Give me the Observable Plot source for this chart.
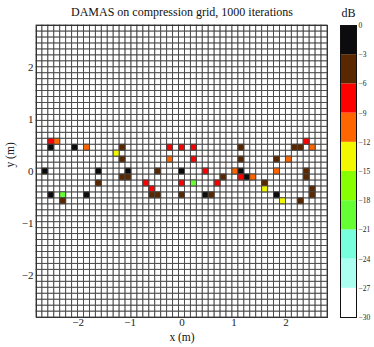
<!DOCTYPE html>
<html><head><meta charset="utf-8">
<script src="https://cdn.jsdelivr.net/npm/d3@7"></script>
<script src="https://cdn.jsdelivr.net/npm/@observablehq/plot@0.6"></script>
<style>
html,body{margin:0;padding:0;background:#fff;}
#wrap{position:relative;width:374px;height:347px;overflow:hidden;}
#main{position:absolute;left:0;top:0;}
#bar{position:absolute;left:330px;top:0;}
</style>
</head><body>
<div id="wrap"><div id="main"></div><div id="bar"></div></div>
<script>
// ---- data ----
const gridCount = 49;          // cells per side
const gridExtent = 2.8;        // grid spans -2.8 .. 2.8 m
const xTicks = [-2, -1, 0, 1, 2];
const yTicks = [-2, -1, 0, 1, 2];
// source cells: position (m) and level (dB)
const srcX = [-2.514,-2.400, 2.400,-2.514,-2.057,-1.829,-1.143,-0.229, 0.000, 0.229, 1.143, 2.171, 2.286, 2.514,
              -1.257,-1.143,-0.229, 0.229, 1.143, 1.829, 2.057,
              -2.629,-1.600,-1.029,-0.457, 0.000, 0.457, 1.029, 1.143, 1.829, 2.400,
              -1.143,-1.029, 0.800, 1.143, 1.257, 1.371, 2.400,
              -1.600,-0.686, 0.000, 0.229, 0.686, 1.600,
              -0.571, 1.600, 2.514,
              -2.514,-2.286,-1.829,-0.571,-0.457, 0.000, 0.457, 0.571, 1.829, 2.514,
              -2.286, 1.943, 2.286];
const srcY = [ 0.571, 0.571, 0.571, 0.457, 0.457, 0.457, 0.457, 0.457, 0.457, 0.457, 0.457, 0.457, 0.457, 0.457,
               0.343, 0.229, 0.229, 0.229, 0.229, 0.229, 0.229,
               0.000, 0.000, 0.000, 0.000, 0.000, 0.000, 0.000, 0.000, 0.000, 0.000,
              -0.114,-0.114,-0.114,-0.114,-0.114,-0.114,-0.114,
              -0.229,-0.229,-0.229,-0.229,-0.229,-0.229,
              -0.343,-0.343,-0.343,
              -0.457,-0.457,-0.457,-0.457,-0.457,-0.457,-0.457,-0.457,-0.457,-0.457,
              -0.571,-0.571,-0.571];
const srcDb = [ -7.2,-10.4, -7.8, -1.2, -1.6,-10.1, -4.3, -7.1, -6.8, -7.5, -4.6, -4.2, -4.4,-10.6,
               -13.2, -4.8,-10.2, -7.4, -4.5, -4.9,-10.8,
                -1.1, -0.9, -1.4, -4.7, -0.5, -7.3,-10.3, -1.3,-10.5, -4.2,
                -4.1, -4.6, -4.4, -7.6, -1.0,-10.7, -4.3,
                -4.5, -7.7, -7.0,-19.2, -7.9, -4.8,
                -7.3,-13.6, -4.4,
                -1.5,-19.5, -1.7, -4.6, -4.3, -4.9, -0.8, -4.2, -1.8, -4.5,
                -4.7,-13.9, -4.1];
const dbBreaks = [-30, -27, -24, -21, -18, -15, -12, -9, -6, -3, 0];
const dbColors = ["#ffffff","#aafff0","#77ffdd","#66ff33","#88ff00","#f2f800","#ff6600","#ff0000","#5a2800","#0c0c0e"];

// ---- derived tables ----
const step = 2 * gridExtent / gridCount;
const cells = d3.cross(d3.range(gridCount), d3.range(gridCount)).map(([i, j]) => ({
  x: -gridExtent + (i + 0.5) * step, y: -gridExtent + (j + 0.5) * step
}));
const sources = srcX.map((x, k) => ({x, y: srcY[k], db: srcDb[k]}));
const bands = d3.range(dbBreaks.length - 1).map(k => ({lo: dbBreaks[k], hi: dbBreaks[k + 1]}));
const colorScale = {type: "threshold", domain: dbBreaks.slice(1, -1), range: dbColors};
const serif = "'Liberation Serif','DejaVu Serif',serif";
const half = step / 2;
const intFmt = d3.format("d");

const main = Plot.plot({
  width: 330, height: 347,
  marginLeft: 36, marginRight: 3, marginTop: 25, marginBottom: 30,
  style: {fontFamily: serif, fontSize: "11px", background: "white", color: "#222"},
  x: {domain: [-gridExtent, gridExtent], ticks: xTicks, tickFormat: intFmt, tickSize: 0, tickPadding: 1, label: null},
  y: {domain: [-gridExtent, gridExtent], ticks: yTicks, tickFormat: intFmt, tickSize: 0, tickPadding: 3, label: null},
  color: colorScale,
  marks: [
    Plot.rect(cells, {x1: d => d.x - half, x2: d => d.x + half, y1: d => d.y - half, y2: d => d.y + half,
      fill: "white", stroke: "#444", strokeWidth: 0.9}),
    Plot.rect(sources, {x1: d => d.x - half, x2: d => d.x + half, y1: d => d.y - half, y2: d => d.y + half,
      fill: "db", stroke: "#444", strokeWidth: 0.9}),
    Plot.frame({stroke: "#333", strokeWidth: 1}),
    Plot.text(["DAMAS on compression grid, 1000 iterations"], {frameAnchor: "top", lineAnchor: "middle", dy: -13, fontSize: 12, fill: "#111"}),
    Plot.text(["x (m)"], {frameAnchor: "bottom", lineAnchor: "middle", dy: 20, fontSize: 11.5, fill: "#111"}),
    Plot.text(["y (m)"], {frameAnchor: "left", lineAnchor: "middle", dx: -26, dy: -4, rotate: -90, fontSize: 11.5, fill: "#111"})
  ]
});
document.getElementById("main").appendChild(main);

const bar = Plot.plot({
  width: 44, height: 347,
  marginLeft: 10, marginRight: 18, marginTop: 25, marginBottom: 30,
  style: {fontFamily: serif, fontSize: "7.5px", background: "white", color: "#222"},
  x: {domain: [0, 1], axis: null},
  y: {domain: [-30, 0], ticks: dbBreaks, tickFormat: intFmt, tickSize: 0, tickPadding: 2, axis: "right", label: null},
  color: colorScale,
  marks: [
    Plot.rect(bands, {x1: 0, x2: 1, y1: "lo", y2: "hi", fill: d => (d.lo + d.hi) / 2}),
    Plot.frame({stroke: "#111", strokeWidth: 1}),
    Plot.text(["dB"], {frameAnchor: "top", lineAnchor: "middle", dy: -12, fontSize: 12, fill: "#111"})
  ]
});
document.getElementById("bar").appendChild(bar);
</script>
</body></html>
